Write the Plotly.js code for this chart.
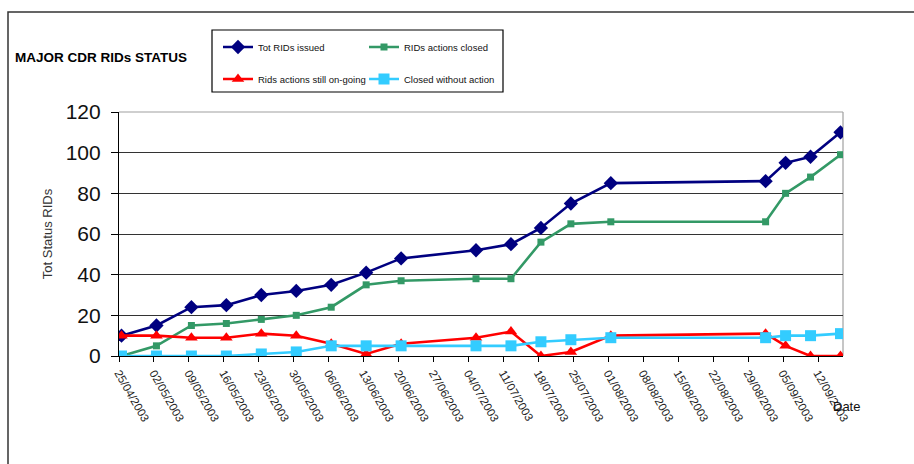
<!DOCTYPE html>
<html>
<head>
<meta charset="utf-8">
<script src="https://cdn.plot.ly/plotly-3.0.1.min.js"></script>
<style>
  html, body { margin: 0; padding: 0; background: #fff; }
  #chart { width: 914px; height: 464px; }
</style>
</head>
<body>
<div id="chart"></div>
<script>
// ---- Data ----
const dates = ['2003-04-25','2003-05-02','2003-05-09','2003-05-16','2003-05-23','2003-05-30',
               '2003-06-06','2003-06-13','2003-06-20','2003-07-05','2003-07-12','2003-07-18',
               '2003-07-24','2003-08-01','2003-09-01','2003-09-05','2003-09-10','2003-09-16'];
const totIssued      = [10, 15, 24, 25, 30, 32, 35, 41, 48, 52, 55, 63, 75, 85, 86, 95, 98, 110];
const actionsClosed  = [ 0,  5, 15, 16, 18, 20, 24, 35, 37, 38, 38, 56, 65, 66, 66, 80, 88, 99];
const stillOngoing   = [10, 10,  9,  9, 11, 10,  6,  1,  6,  9, 12,  0,  2, 10, 11,  5,  0,  0];
const closedNoAction = [ 0,  0,  0,  0,  1,  2,  5,  5,  5,  5,  5,  7,  8,  9,  9, 10, 10, 11];
const seriesNames = ['Tot RIDs issued', 'RIDs actions closed', 'Rids actions still on-going', 'Closed without action'];
const chartTitle = 'MAJOR CDR RIDs STATUS';
const yTitle = 'Tot Status RIDs';
const xTitle = 'Date';

// Excel date axis puts each point in the middle of its day slot
const xs = dates.map(d => d + ' 12:00');

const arial = '"Liberation Sans", Arial, sans-serif';

function tr(y, name, color, symbol, msize, legendId) {
  return {
    x: xs, y: y, name: name, type: 'scatter', mode: 'lines+markers',
    line: { color: color, width: 2.6 },
    marker: { color: color, symbol: symbol, size: msize, line: { width: 0 } },
    legend: legendId,
    hoverinfo: 'x+y+name'
  };
}

const traces = [
  tr(totIssued, seriesNames[0], '#000080', 'diamond', 11, 'legend'),
  tr(actionsClosed, seriesNames[1], '#339966', 'square', 7, 'legend2'),
  tr(stillOngoing, seriesNames[2], '#FF0000', 'triangle-up', 11, 'legend3'),
  tr(closedNoAction, seriesNames[3], '#33CCFF', 'square', 11, 'legend4')
];

// pixel helpers for layout placement (plot area: x 119..843, y 112..356)
const L = 119, R = 71, T = 112, B = 108, W = 914, H = 464;
const PW = W - L - R, PH = H - T - B;
const px = v => (v - L) / PW;
const py = v => (H - B - v) / PH;

function leg(xp, yp) {
  return {
    x: px(xp), y: py(yp), xanchor: 'left', yanchor: 'middle',
    xref: 'paper', yref: 'paper',
    bgcolor: 'rgba(0,0,0,0)', borderwidth: 0,
    font: { family: arial, size: 9.5, color: '#111' },
    itemwidth: 30
  };
}

const layout = {
  width: W, height: H,
  margin: { l: L, r: R, t: T, b: B, pad: 0 },
  paper_bgcolor: '#ffffff',
  plot_bgcolor: '#ffffff',
  font: { family: arial, color: '#111' },
  title: {
    text: '<b>' + chartTitle + '</b>',
    xref: 'container', yref: 'container',
    x: 15 / W, xanchor: 'left',
    y: 1 - 57 / H, yanchor: 'middle',
    font: { family: arial, size: 13.5, color: '#000' }
  },
  showlegend: true,
  legend: leg(218, 47),
  legend2: leg(364, 47),
  legend3: leg(218, 79),
  legend4: leg(364, 79),
  xaxis: {
    type: 'date',
    range: ['2003-04-25 00:00', '2003-09-17 00:00'],
    tick0: '2003-04-25',
    dtick: 7 * 24 * 3600 * 1000,
    tickformat: '%d/%m/%Y',
    tickangle: 60,
    tickfont: { family: arial, size: 11.5, color: '#222' },
    ticks: 'outside', ticklen: 5, tickcolor: '#000', tickwidth: 1,
    showgrid: false, zeroline: false,
    showline: true, linecolor: '#000', linewidth: 1.2,
    fixedrange: true
  },
  yaxis: {
    range: [0, 120],
    tick0: 0, dtick: 20,
    tickfont: { family: arial, size: 21, color: '#111' },
    ticks: 'outside', ticklen: 7, tickcolor: '#000', tickwidth: 1,
    ticklabelstandoff: 6,
    showgrid: true, gridcolor: '#333', gridwidth: 1.2,
    zeroline: false,
    showline: true, linecolor: '#000', linewidth: 1.2,
    title: { text: yTitle, standoff: 10, font: { family: arial, size: 13, color: '#333' } },
    fixedrange: true
  },
  shapes: [
    // outer chart-area frame
    { type: 'rect', xref: 'paper', yref: 'paper', x0: px(8), x1: px(1000), y0: py(12), y1: py(520),
      line: { color: '#333', width: 1.5 }, fillcolor: 'rgba(0,0,0,0)', layer: 'below' },
    // plot area top and right borders
    { type: 'line', xref: 'paper', yref: 'paper', x0: 0, x1: 1, y0: 1, y1: 1,
      line: { color: '#a0a0a0', width: 1.2 }, layer: 'above' },
    { type: 'line', xref: 'paper', yref: 'paper', x0: 1, x1: 1, y0: 0, y1: 1,
      line: { color: '#a0a0a0', width: 1.2 }, layer: 'below' },
    // legend box
    { type: 'rect', xref: 'paper', yref: 'paper', x0: px(212), x1: px(503), y0: py(92), y1: py(30),
      line: { color: '#000', width: 1.2 }, fillcolor: 'rgba(0,0,0,0)' }
  ],
  annotations: [
    { text: xTitle, xref: 'paper', yref: 'paper', x: px(846), y: py(406),
      xanchor: 'center', yanchor: 'middle', showarrow: false,
      font: { family: arial, size: 13, color: '#111' } }
  ]
};

Plotly.newPlot('chart', traces, layout, { displayModeBar: false, responsive: false });
</script>
</body>
</html>
